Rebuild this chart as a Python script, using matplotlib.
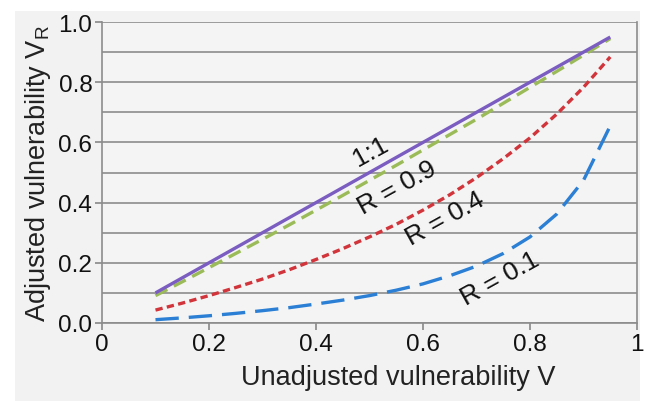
import matplotlib
matplotlib.use("Agg")
import matplotlib.pyplot as plt
from matplotlib.patches import Rectangle
from matplotlib.ticker import MultipleLocator

plt.rcParams['font.family'] = ['Liberation Sans', 'DejaVu Sans']

V = [0.10, 0.15, 0.20, 0.25, 0.30, 0.35, 0.40, 0.45, 0.50, 0.55,
     0.60, 0.65, 0.70, 0.75, 0.80, 0.85, 0.90, 0.95]
one_to_one = [0.10, 0.15, 0.20, 0.25, 0.30, 0.35, 0.40, 0.45, 0.50, 0.55,
              0.60, 0.65, 0.70, 0.75, 0.80, 0.85, 0.90, 0.95]
r09 = [0.091, 0.137, 0.184, 0.231, 0.278, 0.326, 0.375, 0.424, 0.474, 0.524,
       0.575, 0.626, 0.677, 0.730, 0.783, 0.836, 0.890, 0.945]
r04 = [0.043, 0.066, 0.091, 0.118, 0.146, 0.177, 0.211, 0.247, 0.286, 0.328,
       0.375, 0.426, 0.483, 0.546, 0.615, 0.694, 0.783, 0.884]
r01 = [0.011, 0.017, 0.024, 0.032, 0.041, 0.051, 0.063, 0.076, 0.091, 0.109,
       0.130, 0.157, 0.189, 0.231, 0.286, 0.362, 0.474, 0.655]

labels = ["1:1", "R = 0.9", "R = 0.4", "R = 0.1"]
label_x = [0.502, 0.551, 0.641, 0.744]
label_y = [0.572, 0.452, 0.349, 0.150]

x_ticks = [0, 0.2, 0.4, 0.6, 0.8, 1.0]
x_ticklabels = ["0", "0.2", "0.4", "0.6", "0.8", "1"]
y_ticks = [0.0, 0.2, 0.4, 0.6, 0.8, 1.0]
y_ticklabels = ["0.0", "0.2", "0.4", "0.6", "0.8", "1.0"]

fig = plt.figure(figsize=(6.47, 4.02), dpi=100, facecolor="white")
fig.patches.append(Rectangle((15 / 647, 0), (640 - 15) / 647, 1 - 12 / 402,
                             transform=fig.transFigure, facecolor="#f2f2f2",
                             edgecolor="none", zorder=-10))
ax = fig.add_axes([102 / 647, 1 - 324 / 402, 535 / 647, 301 / 402])
ax.set_facecolor("#f4f4f4")

ax.plot(V, one_to_one, color="#7b5cc0", lw=2.4, solid_capstyle="butt", zorder=5)
ax.plot(V, r09, color="#9bbb59", lw=2.4, dashes=(4, 2.2), zorder=4)
ax.plot(V, r04, color="#d1343a", lw=2.4, dashes=(2.2, 1.3), zorder=4)
ax.plot(V, r01, color="#2b7fd4", lw=2.4, dashes=(7, 3), zorder=4)

for t, x, y in zip(labels, label_x, label_y):
    ax.text(x, y, t, rotation=29, rotation_mode="anchor", ha="center", va="center",
            fontsize=19, color="#111111", zorder=6)

ax.set_xlim(0, 1)
ax.set_ylim(0, 1)
ax.set_xticks(x_ticks)
ax.set_xticklabels(x_ticklabels)
ax.set_yticks(y_ticks)
ax.set_yticklabels(y_ticklabels)
ax.yaxis.set_minor_locator(MultipleLocator(0.1))
ax.tick_params(axis="both", which="major", labelsize=17.5, color="#888888",
               length=5, width=1.2, pad=2, labelcolor="#111111")
ax.tick_params(axis="y", which="minor", length=0)
ax.grid(axis="y", which="both", color="#8c8c8c", lw=1.2)
ax.set_axisbelow(True)
for s in ["left", "bottom", "right"]:
    ax.spines[s].set_color("#8c8c8c")
    ax.spines[s].set_linewidth(1.2)
ax.spines["top"].set_visible(False)

ax.set_xlabel("Unadjusted vulnerability V", fontsize=19.5, color="#222222", labelpad=5)
ax.xaxis.set_label_coords(0.553, -0.135)
ax.set_ylabel("Adjusted vulnerability V$_\\mathregular{R}$", fontsize=19.5,
              color="#222222", labelpad=4)

fig.savefig("out.png", dpi=100, facecolor="white")
